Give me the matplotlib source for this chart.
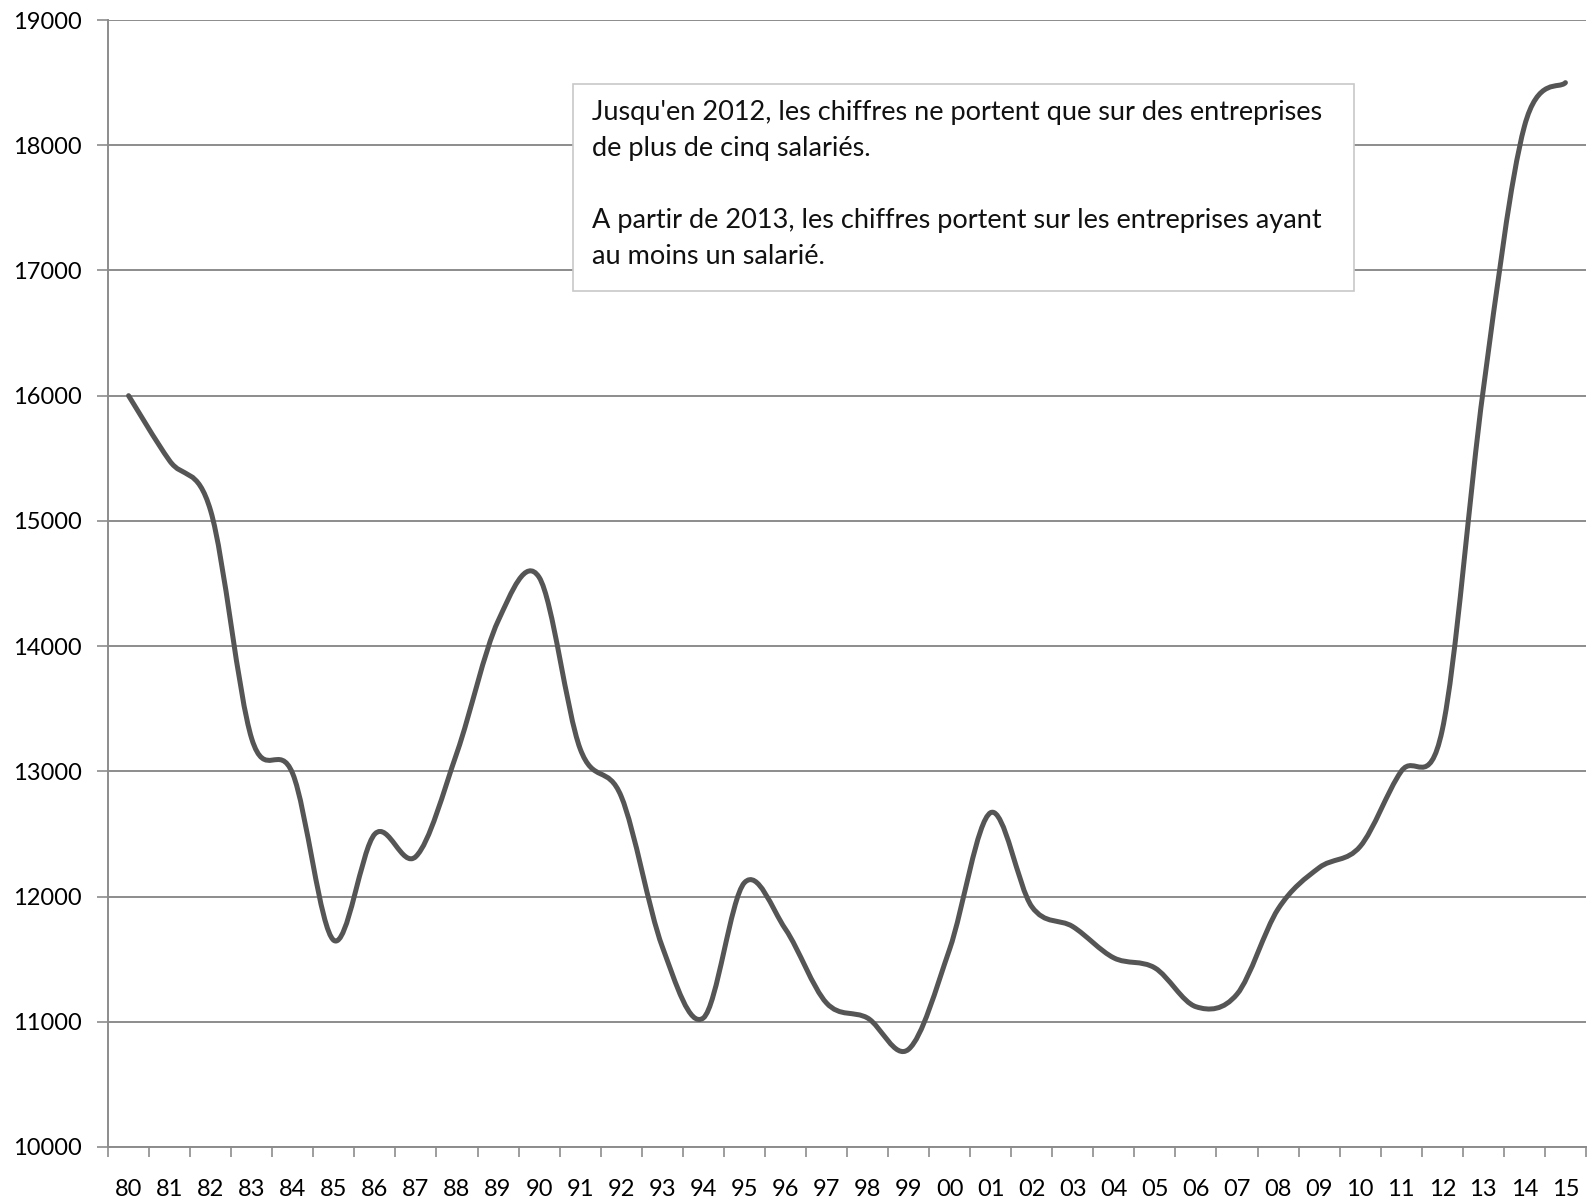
import matplotlib.pyplot as plt
import numpy as np
from matplotlib.path import Path
from matplotlib.patches import PathPatch, Rectangle

# values
years = ["80", "81", "82", "83", "84", "85", "86", "87", "88", "89",
         "90", "91", "92", "93", "94", "95", "96", "97", "98", "99",
         "00", "01", "02", "03", "04", "05", "06", "07", "08", "09",
         "10", "11", "12", "13", "14", "15"]
values = [16000, 15480, 15080, 13260, 12980, 11650, 12500, 12320, 13150, 14200,
          14550, 13180, 12800, 11600, 11030, 12110, 11740, 11150, 11030, 10780,
          11580, 12670, 11920, 11760, 11510, 11430, 11120, 11220, 11900, 12230,
          12400, 13000, 13330, 16050, 18150, 18500]
y_ticks = [10000, 11000, 12000, 13000, 14000, 15000, 16000, 17000, 18000, 19000]
note = ("Jusqu'en 2012, les chiffres ne portent que sur des entreprises\n"
        "de plus de cinq salariés.\n"
        "\n"
        "A partir de 2013, les chiffres portent sur les entreprises ayant\n"
        "au moins un salarié.")

plt.rcParams['font.family'] = ['Lato', 'DejaVu Sans']

grey = "#8c8c8c"


def smooth_path(xs, ys):
    # bezier segments like a spreadsheet "smoothed line"
    pts = np.column_stack([xs, ys]).astype(float)
    n = len(pts)
    verts = [pts[0]]
    codes = [Path.MOVETO]
    for i in range(n - 1):
        p0 = pts[max(i - 1, 0)]
        p1 = pts[i]
        p2 = pts[i + 1]
        p3 = pts[min(i + 2, n - 1)]
        c1 = p1 + (p2 - p0) / 6
        c2 = p2 - (p3 - p1) / 6
        verts += [c1, c2, p2]
        codes += [Path.CURVE4] * 3
    return Path(verts, codes)


fig = plt.figure(figsize=(15.96, 12), dpi=100)
ax = fig.add_axes([0.0677, 0.0442, 0.926, 0.9391])

x = np.arange(len(years))
ax.add_patch(PathPatch(smooth_path(x, values), facecolor="none",
                       edgecolor="#555555", linewidth=3.6,
                       capstyle="round", joinstyle="round", zorder=3))

ax.set_xlim(-0.5, len(years) - 0.5)
ax.set_ylim(10000, 19000)

ax.set_yticks(y_ticks)
ax.set_yticklabels([str(v) for v in y_ticks], fontsize=17)
ax.yaxis.grid(True, color=grey, linewidth=1.4)
ax.set_axisbelow(True)

ax.set_xticks(x)
ax.set_xticklabels(years, fontsize=17)
ax.set_xticks(np.arange(-0.5, len(years)), minor=True)
ax.tick_params(axis="x", which="major", length=0, pad=23)
ax.tick_params(axis="x", which="minor", length=7, color=grey, width=1.2)
ax.tick_params(axis="y", length=8, color=grey, width=1.2, pad=11)

for side in ["top", "right"]:
    ax.spines[side].set_visible(False)
for side in ["left", "bottom"]:
    ax.spines[side].set_color(grey)
    ax.spines[side].set_linewidth(1.4)

# note box
ax.add_patch(Rectangle((10.82, 16836), 19.03, 1657, facecolor="white",
                       edgecolor="#c8c8c8", linewidth=1.2, zorder=4))
ax.text(11.3, 18360, note, fontsize=19.5, va="top", ha="left",
        linespacing=1.55, color="#111111", zorder=5)

fig.savefig("out.png", dpi=100)
